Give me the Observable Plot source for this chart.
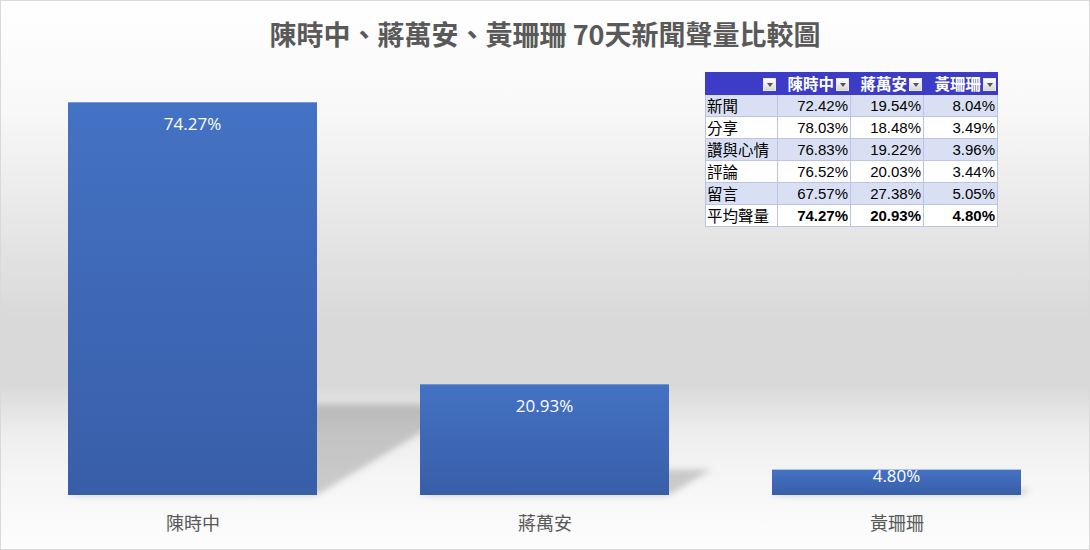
<!DOCTYPE html>
<html>
<head>
<meta charset="utf-8">
<script src="https://cdn.jsdelivr.net/npm/d3@7"></script>
<script src="https://cdn.jsdelivr.net/npm/@observablehq/plot@0.6"></script>
<style>
  body { margin: 0; background: #fff; }
  #wrap {
    position: relative; width: 1088px; height: 548px; border: 1px solid #d9d9d9; overflow: hidden;
    background: linear-gradient(to bottom, #ffffff 0%, #f8f8f8 20%, #e4e4e4 44%, #d9d9d9 58%, #d9d9d9 70%, #eeeeee 79%, #f6f6f6 88%, #fdfdfd 100%);
  }
  #title {
    height: 59px; box-sizing: border-box; padding-top: 5px; line-height: 56px; text-align: center;
    font-family: "Noto Sans CJK TC", "Noto Sans", sans-serif; font-weight: bold; font-size: 27px; color: #595959;
  }
  #chart { position: absolute; left: 0; top: 59px; }
  #tbl {
    position: absolute; left: 704px; top: 71px; border-collapse: collapse; table-layout: fixed;
    font-family: "Liberation Sans", "Noto Sans CJK TC", sans-serif; font-size: 15px; color: #000;
    border: 1px solid #b3bfe3;
  }
  #tbl td { height: 22px; line-height: 21px; padding: 0 2px; border: 1px solid #b9c4e6; white-space: nowrap; overflow: hidden; box-sizing: border-box; }
  #tbl td.lab { font-family: "Noto Sans CJK TC", sans-serif; font-size: 15.5px; text-align: left; padding-left: 1px; }
  #tbl td.num { text-align: right; }
  #tbl tr.alt td { background: #d9e0f3; }
  #tbl tr.plain td { background: #ffffff; }
  #tbl tr.head td {
    background: #3c3cc6; color: #fff; font-family: "Noto Sans CJK TC", sans-serif; font-weight: bold; font-size: 15.5px;
    text-align: right; border-color: #3c3cc6; padding-right: 1px;
  }
  #tbl tr.avg td.num { font-weight: bold; }
  .btn {
    display: inline-block; width: 13px; height: 13px; margin-left: 2px; vertical-align: -1px; position: relative;
    background: linear-gradient(#ffffff, #d6d6d6); border: 1px solid #e8e8e8; box-sizing: border-box;
  }
  .btn::after {
    content: ""; position: absolute; left: 3px; top: 4px; border-left: 3px solid transparent; border-right: 3px solid transparent;
    border-top: 4px solid #555;
  }
</style>
</head>
<body>
<div id="wrap">
  <div id="title">陳時中、蔣萬安、黃珊珊 70天新聞聲量比較圖</div>
  <div id="chart"></div>
  <table id="tbl"></table>
</div>
<script>
const seriesNames = ["陳時中", "蔣萬安", "黃珊珊"];
const metrics = ["新聞", "分享", "讚與心情", "評論", "留言"];
const chenValues = [72.42, 78.03, 76.83, 76.52, 67.57];
const chiangValues = [19.54, 18.48, 19.22, 20.03, 27.38];
const huangValues = [8.04, 3.49, 3.96, 3.44, 5.05];
const averageLabel = "平均聲量";
const averageValues = [74.27, 20.93, 4.80];

const fmt = v => v.toFixed(2) + "%";
const data = seriesNames.map((name, i) => ({name, value: averageValues[i]}));

const defsMark = () => {
  const defs = d3.create("svg:defs");
  const g = defs.append("linearGradient").attr("id", "barGrad").attr("x1", 0).attr("y1", 0).attr("x2", 0).attr("y2", 1);
  g.append("stop").attr("offset", "0%").attr("stop-color", "#4472c4");
  g.append("stop").attr("offset", "100%").attr("stop-color", "#385ea8");
  const f = defs.append("filter").attr("id", "shadowBlur").attr("x", "-20%").attr("y", "-50%").attr("width", "140%").attr("height", "200%");
  f.append("feGaussianBlur").attr("stdDeviation", 3);
  return defs.node();
};

const shadowMark = (index, scales) => {
  const sx = scales.x, sy = scales.y;
  const bw = typeof sx.bandwidth === "function" ? sx.bandwidth() : sx.bandwidth;
  const g = d3.create("svg:g").attr("filter", "url(#shadowBlur)");
  g.selectAll("path").data(data).join("path")
    .attr("d", d => {
      const x0 = sx(d.name), x1 = x0 + bw, yb = sy(0), yt = sy(d.value);
      const s = 0.23 * (yb - yt), sh = s / 0.6;
      return `M${x0},${yb}L${x1},${yb}L${x1 + sh},${yb - s}L${x0 + sh},${yb - s}Z`;
    })
    .attr("fill", "#000").attr("fill-opacity", 0.18);
  return g.node();
};

// label anchor: ~22px below the bar top, but never lower than near the base
const labelMark = (index, scales) => {
  const sx = scales.x, sy = scales.y;
  const bw = typeof sx.bandwidth === "function" ? sx.bandwidth() : sx.bandwidth;
  const g = d3.create("svg:g").attr("fill", "white").attr("font-size", 17)
    .attr("font-family", "'Open Sans', sans-serif").attr("text-anchor", "middle");
  g.selectAll("text").data(data).join("text")
    .attr("x", d => sx(d.name) + bw / 2)
    .attr("y", d => Math.min(sy(d.value) + 22, sy(0) - 19))
    .attr("dy", "0.35em")
    .text(d => fmt(d.value));
  return g.node();
};

const chart = Plot.plot({
  width: 1088,
  height: 489,
  marginTop: 12,
  marginBottom: 54,
  marginLeft: 0,
  marginRight: 0,
  style: {background: "transparent", color: "#595959", fontFamily: "'Noto Sans CJK TC', sans-serif", overflow: "visible"},
  x: {domain: seriesNames, paddingInner: 0.2918, paddingOuter: 0.187, label: null},
  y: {domain: [0, 80], axis: null},
  marks: [
    defsMark,
    shadowMark,
    Plot.barY(data, {x: "name", y: "value", fill: "url(#barGrad)"}),
    labelMark,
    Plot.axisX({tickSize: 0, tickPadding: 22, fontSize: 18, label: null})
  ]
});
document.getElementById("chart").appendChild(chart);

// table
const tbl = d3.select("#tbl");
const colW = [72, 73, 73, 74];
const cg = tbl.append("colgroup");
colW.forEach(w => cg.append("col").style("width", w + "px"));
const head = tbl.append("tr").attr("class", "head");
head.append("td").html('<span class="btn"></span>');
seriesNames.forEach(n => {
  const td = head.append("td");
  td.append("span").text(n);
  td.append("span").attr("class", "btn");
});
const cols = [chenValues, chiangValues, huangValues];
metrics.forEach((m, i) => {
  const tr = tbl.append("tr").attr("class", i % 2 === 0 ? "alt" : "plain");
  tr.append("td").attr("class", "lab").text(m);
  cols.forEach(c => tr.append("td").attr("class", "num").text(fmt(c[i])));
});
const avg = tbl.append("tr").attr("class", "plain avg");
avg.append("td").attr("class", "lab").text(averageLabel);
averageValues.forEach(v => avg.append("td").attr("class", "num").text(fmt(v)));
</script>
</body>
</html>
